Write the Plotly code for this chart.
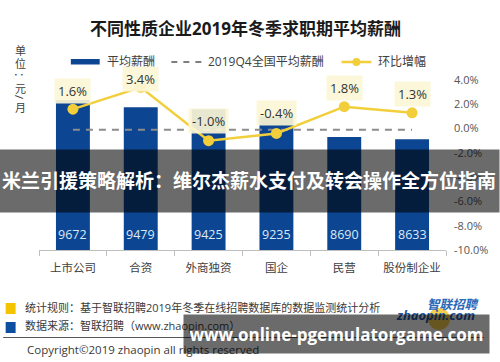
import plotly.graph_objects as go

# ---------------- data ----------------
categories = ["上市公司", "合资", "外商独资", "国企", "民营", "股份制企业"]
avg_salary = [9672, 9479, 9425, 9235, 8690, 8633]
national_avg = 8880
mom_growth = [1.6, 3.4, -1.0, -0.4, 1.8, 1.3]
pct_ticks = [4, 2, 0, -2, -4, -6, -8, -10]
pct_tick_labels = ["4.0%", "2.0%", "0.0%", "-2.0%", "-4.0%", "-6.0%", "-8.0%", "-10.0%"]

# ---------------- layout helpers ----------------
W, H = 500, 362
L, R, T, B = 39, 448, 80, 250
def px(x):
    return (x - L) / (R - L)
def py(y):
    return (B - y) / (B - T)

FONT = "Open Sans, Noto Sans CJK SC, sans-serif"
BAR_C = "#0c4592"
YEL = "#f2cf3a"
GRAY_TXT = "#404040"

fig = go.Figure()
fig.add_trace(go.Bar(x=categories, y=avg_salary, marker=dict(color=BAR_C, line=dict(width=0)),
                     width=0.5, yaxis="y", hoverinfo="skip"))
fig.add_trace(go.Scatter(x=categories, y=[national_avg] * len(categories), mode="lines",
                         line=dict(color="#8c8c8c", width=2, dash="7px,6px"), yaxis="y", hoverinfo="skip"))
fig.add_trace(go.Scatter(x=categories, y=mom_growth, mode="lines+markers",
                         line=dict(color=YEL, width=2.5), marker=dict(color=YEL, size=11),
                         yaxis="y2", hoverinfo="skip"))

ann = []
shapes = []

# title
ann.append(dict(xref="paper", yref="paper", x=px(246.5), y=py(29), text="<b>不同性质企业2019年冬季求职期平均薪酬</b>",
                showarrow=False, font=dict(size=17, color="#1a1a1a", family=FONT), xanchor="center", yanchor="middle"))

# unit label (vertical)
for ch, yy in zip(["单", "位", "：", "元", "/", "月"], [51, 64, 77, 88, 97, 107]):
    ann.append(dict(xref="paper", yref="paper", x=px(20), y=py(yy), text=ch, showarrow=False,
                    font=dict(size=11, color=GRAY_TXT, family=FONT), xanchor="center", yanchor="middle",
                    textangle=90 if ch in "：/" else 0))

# legend
shapes.append(dict(type="rect", xref="paper", yref="paper", x0=px(71), x1=px(100), y0=py(64.5), y1=py(59),
                   fillcolor=BAR_C, line=dict(width=0)))
ann.append(dict(xref="paper", yref="paper", x=px(105), y=py(62), text="平均薪酬", showarrow=False,
                font=dict(size=12, color=GRAY_TXT, family=FONT), xanchor="left", yanchor="middle"))
shapes.append(dict(type="line", xref="paper", yref="paper", x0=px(172), x1=px(204), y0=py(62), y1=py(62),
                   line=dict(color="#7f7f7f", width=2, dash="6px,6px")))
ann.append(dict(xref="paper", yref="paper", x=px(207), y=py(62), text="2019Q4全国平均薪酬", showarrow=False,
                font=dict(size=12, color=GRAY_TXT, family=FONT), xanchor="left", yanchor="middle"))
shapes.append(dict(type="line", xref="paper", yref="paper", x0=px(343), x1=px(373), y0=py(62), y1=py(62),
                   line=dict(color=YEL, width=2.5)))
shapes.append(dict(type="circle", xref="paper", yref="paper", x0=px(354), x1=px(362), y0=py(66), y1=py(58),
                   fillcolor=YEL, line=dict(width=0)))
ann.append(dict(xref="paper", yref="paper", x=px(378), y=py(62), text="环比增幅", showarrow=False,
                font=dict(size=12, color=GRAY_TXT, family=FONT), xanchor="left", yanchor="middle"))

# bar value labels
for c, v in zip(categories, avg_salary):
    ann.append(dict(xref="x", yref="paper", x=c, y=0, yshift=16, text=str(v), showarrow=False,
                    font=dict(size=12.5, color="#dce9f7", family=FONT), xanchor="center", yanchor="middle"))

# percentage labels
label_shift = [18, 8, 20, 20, 19, 19]
for c, v, s in zip(categories, mom_growth, label_shift):
    ann.append(dict(xref="x", yref="y2", x=c, y=v, yshift=s, text=f"{v:.1f}%", showarrow=False,
                    font=dict(size=13, color="#333333", family=FONT), xanchor="center", yanchor="middle",
                    bgcolor="rgba(252,246,214,0.92)", borderpad=3))

# banner overlay
ann.append(dict(xref="paper", yref="paper", x=px(250), y=py(181), width=500, height=62, borderpad=0,
                text="<b>米兰引援策略解析：维尔杰薪水支付及转会操作全方位指南</b>", showarrow=False,
                bgcolor="rgba(0,0,0,0.58)", font=dict(size=19, color="white", family=FONT),
                xanchor="center", yanchor="middle", align="center"))

# footer
shapes.append(dict(type="rect", xref="paper", yref="paper", x0=px(5.5), x1=px(15.5), y0=py(314), y1=py(303),
                   fillcolor="#f5c400", line=dict(width=0)))
shapes.append(dict(type="rect", xref="paper", yref="paper", x0=px(5.5), x1=px(15.5), y0=py(333), y1=py(322),
                   fillcolor="#0c4ea0", line=dict(width=0)))
shapes.append(dict(type="line", xref="paper", yref="paper", x0=px(3), x1=px(486), y0=py(337.5), y1=py(337.5),
                   line=dict(color="#555555", width=1)))
ann.append(dict(xref="paper", yref="paper", x=px(23), y=py(307), text="统计规则：基于智联招聘2019年冬季在线招聘数据库的数据监测统计分析",
                showarrow=False, font=dict(size=11, color="#3a3a3a", family=FONT), xanchor="left", yanchor="middle"))
ann.append(dict(xref="paper", yref="paper", x=px(23), y=py(325.5), text="数据来源：智联招聘（www.zhaopin.com）",
                showarrow=False, font=dict(size=11, color="#3a3a3a", family=FONT), xanchor="left", yanchor="middle"))
ann.append(dict(xref="paper", yref="paper", x=px(25), y=py(349), text="Copyright©2019 zhaopin all rights reserved",
                showarrow=False, font=dict(size=11.5, color="#3a3a3a", family=FONT), xanchor="left", yanchor="middle"))

# logo
shapes.append(dict(type="circle", xref="paper", yref="paper", x0=px(430), x1=px(452), y0=py(330), y1=py(308),
                   fillcolor="rgba(245,190,20,0.75)", line=dict(width=0)))
ann.append(dict(xref="paper", yref="paper", x=px(456), y=py(304), text="<b>智联招聘</b>", showarrow=False,
                font=dict(size=12.5, color="#2a68b8", family=FONT, style="italic"), xanchor="center", yanchor="middle"))
ann.append(dict(xref="paper", yref="paper", x=px(437), y=py(315), text="<b>zhaopin.com</b>", showarrow=False,
                font=dict(size=13, color="#1f5aa8", family=FONT, style="italic"), xanchor="center", yanchor="middle"))

# watermark overlay
ann.append(dict(xref="paper", yref="paper", x=px(337.5), y=py(334), width=305, height=38, borderpad=0,
                text="<b>www.online-pgemulatorgame.com</b>", showarrow=False,
                bgcolor="rgba(0,0,0,0.58)", font=dict(size=17, color="white", family=FONT),
                xanchor="center", yanchor="middle", align="center"))

fig.update_layout(
    width=W, height=H,
    margin=dict(l=L, r=W - R, t=T, b=H - B, pad=0),
    paper_bgcolor="white", plot_bgcolor="white",
    showlegend=False,
    font=dict(family=FONT, color=GRAY_TXT),
    xaxis=dict(showline=True, linecolor="#bfbfbf", linewidth=1, ticks="outside", tickson="boundaries",
               ticklen=5, tickcolor="#bfbfbf", showgrid=False, zeroline=False,
               tickfont=dict(size=11.5, color=GRAY_TXT, family=FONT), ticklabelstandoff=7),
    yaxis=dict(visible=False, range=[5700, 10200], showgrid=False, zeroline=False),
    yaxis2=dict(overlaying="y", side="right", range=[-10, 4], tickvals=pct_ticks, ticktext=pct_tick_labels,
                showgrid=False, zeroline=False, showline=False, ticks="",
                tickfont=dict(size=11, color="#555555", family=FONT), ticklabelstandoff=7),
    annotations=ann, shapes=shapes,
)

fig.write_html("out.html", config={"displayModeBar": False},
               post_script="document.body.style.margin='0px';document.body.style.overflow='hidden';")
